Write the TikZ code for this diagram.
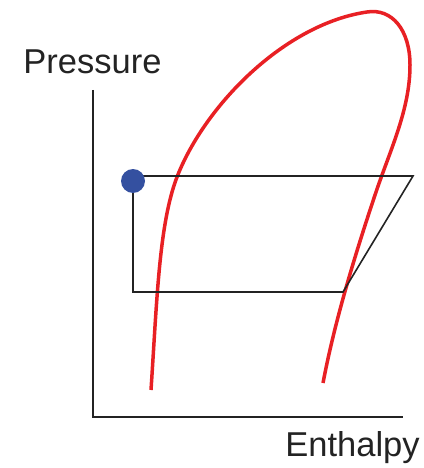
\documentclass[tikz,border=0pt]{standalone}
\usepackage{fontspec}
\setmainfont{Liberation Sans}
\usetikzlibrary{positioning}
\definecolor{domered}{RGB}{232,32,36}
\definecolor{dotblue}{RGB}{52,80,160}
\definecolor{cycleblack}{RGB}{35,35,35}
\tikzset{
  axisline/.style={draw=cycleblack, line width=2pt},
  cycleline/.style={draw=cycleblack, line width=1.6pt, line join=miter},
  dome/.style={draw=domered, line width=3.5pt, line cap=butt},
  statedot/.style={circle, fill=dotblue, minimum size=24pt, inner sep=0pt},
  axislabel/.style={font=\fontsize{34.5}{38}\selectfont, text=cycleblack, inner sep=0pt},
}

\begin{document}
\begin{tikzpicture}[x=1pt, y=-1pt]
\useasboundingbox (0,0) rectangle (423,468);

% ---- axes ------------------------------------------------------------------
\coordinate (ytop)   at (93,90);
\coordinate (origin) at (93,417);
\coordinate (xend)   at (403,417);
\draw[axisline] (ytop) -- (origin) -- (xend);

\node[axislabel] (plabel) at (92.5,62)  {Pressure};
\node[axislabel] (hlabel) at (352.5,448) {Enthalpy};

% ---- saturation dome --------------------------------------------------------
\coordinate (liqbot) at (151,390);
\coordinate (liqmid) at (177,177);
\coordinate (crit)   at (367,12);
\coordinate (vapnose) at (410,65);
\coordinate (vapmid) at (375,195);
\coordinate (vapbot) at (323,383);
\draw[dome] (liqbot) .. controls (157,300) and (159,224) .. (liqmid)
  .. controls (205,105) and (285,24) .. (crit)
  .. controls (392,8) and (410,30) .. (vapnose)
  .. controls (410,110) and (390,150) .. (vapmid)
  .. controls (355,255) and (335,320) .. (vapbot);

% ---- refrigeration cycle ---------------------------------------------------
\coordinate (liqpt)   at (133,181);
\coordinate (condout) at (413,176);
\coordinate (evapout) at (343,292);
\coordinate (evapin)  at (133,292);
\draw[cycleline] (liqpt |- condout) -- (condout) -- (evapout) -- (evapin) -- (liqpt);
\node[statedot] (liquid) at (liqpt) {};

\end{tikzpicture}
\end{document}
